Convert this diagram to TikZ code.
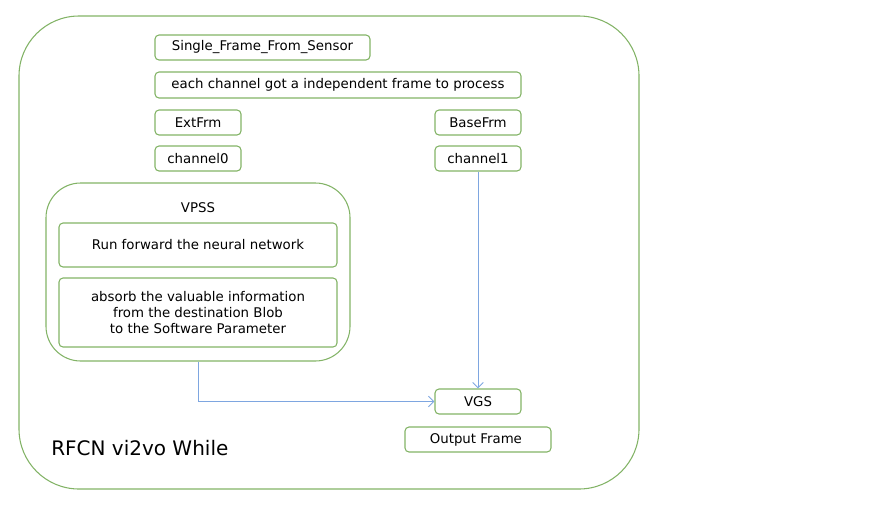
\documentclass[tikz,border=0pt]{standalone}
\usepackage{fontspec}
\setmainfont{DejaVu Sans}
\usetikzlibrary{fit,arrows.meta}
\definecolor{boxgreen}{RGB}{130,179,102}
\definecolor{flowblue}{RGB}{126,166,224}

\begin{document}
\begin{tikzpicture}[x=0.75pt,y=-0.75pt,
box/.style={draw=boxgreen, line width=0.8pt, rounded corners=3pt, inner sep=0pt},
boxtext/.style={font=\fontsize{10}{12}\selectfont, align=center, inner sep=0pt},
flow/.style={draw=flowblue, line width=0.75pt, -{Straight Barb[length=4pt,width=8pt]}}]

\useasboundingbox (0,0) rectangle (873,508);

% the loop around everything
\node[box, rounded corners=45pt, fit={(19,16) (639,489)}] (Loop) {};
\node[anchor=base west, inner sep=0pt, font=\fontsize{15}{18}\selectfont] (Title) at (51,455) {RFCN vi2vo While};

% VPSS group
\node[box, rounded corners=26pt, fit={(46,183) (350,361)}] (VPSS) {};
\node[boxtext] (VPSSLabel) at (198,208) {VPSS};

\foreach \n/\xa/\ya/\xb/\yb/\t in
{ Sensor/155/35/370/60/{Single\_Frame\_From\_Sensor},
    Split/155/72/521/98/{each channel got a independent frame to process},
    ExtFrm/155/110/241/135/{ExtFrm},
    BaseFrm/435/110/521/135/{BaseFrm},
    Chan0/155/146/241/171/{channel0},
    Chan1/435/146/521/171/{channel1},
    RunNet/59/223/337/267/{Run forward the neural network},
    Absorb/59/278/337/347/{absorb the valuable information\\from the destination Blob\\to the Software Parameter},
    VGS/435/389/521/414/{VGS},
    OutFrame/405/427/551/452/{Output Frame}
}
{
    \node[box, fit={(\xa,\ya) (\xb,\yb)}, label={[boxtext]center:{\t}}] (\n) {};
};

\draw[flow] (Chan1) -- (VGS);
\draw[flow] (VPSS) |- (VGS);

\end{tikzpicture}
\end{document}
